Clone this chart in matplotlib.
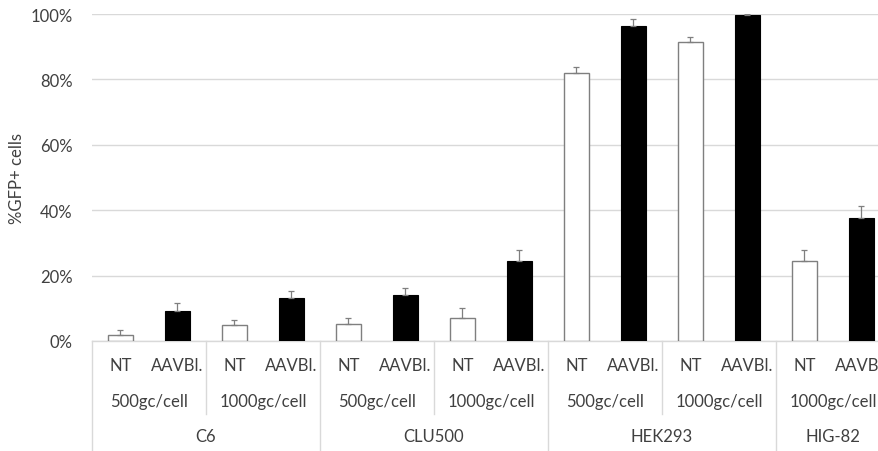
import matplotlib.pyplot as plt
import matplotlib.transforms as mtransforms

plt.rcParams['font.family'] = ['Lato', 'DejaVu Sans']

# data
cell_lines = ['C6', 'C6', 'CLU500', 'CLU500', 'HEK293', 'HEK293', 'HIG-82']
doses = ['500gc/cell', '1000gc/cell', '500gc/cell', '1000gc/cell',
         '500gc/cell', '1000gc/cell', '1000gc/cell']
nt_vals = [1.8, 4.9, 5.1, 7.0, 81.9, 91.4, 24.6]
nt_err = [1.6, 1.5, 1.8, 3.1, 1.8, 1.7, 3.1]
aav_vals = [9.2, 13.1, 14.2, 24.6, 96.2, 99.6, 37.5]
aav_err = [2.4, 2.2, 2.0, 3.1, 2.2, 0.3, 3.7]
treatments = ['NT', 'AAVBl.']

txt = '#404040'
grid = '#d9d9d9'
fs = 12

fig = plt.figure(figsize=(8.79, 4.52), dpi=100)
ax = fig.add_axes([92 / 879, 110 / 452, 798 / 879, 327 / 452])

n = len(doses)
x_nt = [2 * i for i in range(n)]
x_aav = [2 * i + 1 for i in range(n)]
w = 0.43

ax.bar(x_nt, nt_vals, width=w, color='white', edgecolor='#7f7f7f', linewidth=1.0, zorder=3)
ax.bar(x_aav, aav_vals, width=w, color='black', edgecolor='black', linewidth=0.8, zorder=3)
ax.errorbar(x_nt, nt_vals, yerr=[[0] * n, nt_err], fmt='none', ecolor='#7f7f7f',
            elinewidth=0.9, capsize=2.5, capthick=0.9, zorder=4)
ax.errorbar(x_aav, aav_vals, yerr=[[0] * n, aav_err], fmt='none', ecolor='#7f7f7f',
            elinewidth=0.9, capsize=2.5, capthick=0.9, zorder=4)

ax.set_xlim(-0.5, 2 * n - 0.5)
ax.set_ylim(0, 100)
ax.set_yticks([0, 20, 40, 60, 80, 100])
ax.set_yticklabels(['%d%%' % v for v in [0, 20, 40, 60, 80, 100]], color=txt, fontsize=fs)
ax.tick_params(axis='y', length=0, pad=14)
ax.set_xticks([])
ax.yaxis.grid(True, color=grid, linewidth=1.0, zorder=0)
ax.set_axisbelow(True)
for s in ['top', 'right', 'left']:
    ax.spines[s].set_visible(False)
ax.spines['bottom'].set_color(grid)
ax.spines['bottom'].set_linewidth(1.0)
ax.set_ylabel('%GFP+ cells', color=txt, fontsize=fs, labelpad=4)

trans = mtransforms.blended_transform_factory(ax.transData, ax.transAxes)

# treatment labels
for i in range(n):
    ax.text(x_nt[i], -0.073, treatments[0], transform=trans, ha='center', va='center',
            color=txt, fontsize=fs, clip_on=False)
    ax.text(x_aav[i], -0.073, treatments[1], transform=trans, ha='center', va='center',
            color=txt, fontsize=fs, clip_on=False)
    ax.text(2 * i + 0.5, -0.183, doses[i], transform=trans, ha='center', va='center',
            color=txt, fontsize=fs, clip_on=False)

# cell line labels and separators
start = 0
for i in range(1, n + 1):
    if i == n or cell_lines[i] != cell_lines[start]:
        mid = (2 * start + 2 * i - 1) / 2
        ax.text(mid, -0.29, cell_lines[start], transform=trans, ha='center', va='center',
                color=txt, fontsize=fs, clip_on=False)
        ax.plot([2 * i - 0.5, 2 * i - 0.5], [0, -0.336], transform=trans, color=grid,
                linewidth=1.0, clip_on=False)
        start = i
    else:
        ax.plot([2 * i - 0.5, 2 * i - 0.5], [0, -0.223], transform=trans, color=grid,
                linewidth=1.0, clip_on=False)
ax.plot([-0.5, -0.5], [0, -0.336], transform=trans, color=grid, linewidth=1.0, clip_on=False)

fig.savefig('out.png', dpi=100)
